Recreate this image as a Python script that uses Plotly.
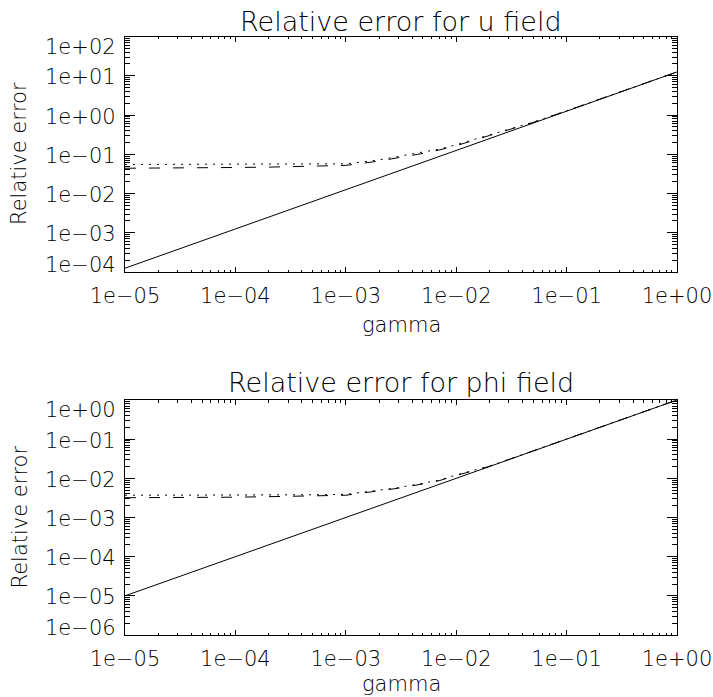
import plotly.graph_objects as go

# ---- data -------------------------------------------------------------
gamma = [1e-5, 2e-5, 5e-5, 1e-4, 2e-4, 5e-4, 1e-3, 2e-3, 3e-3, 5e-3, 7e-3,
         1e-2, 2e-2, 3e-2, 5e-2, 1e-1, 2e-1, 5e-1, 1.0]

# u field
u_solid = [1.25e-4, 2.5e-4, 6.2e-4, 1.25e-3, 2.5e-3, 6.2e-3, 1.25e-2, 2.5e-2,
           3.7e-2, 6.2e-2, 8.7e-2, 0.125, 0.25, 0.37, 0.62, 1.25, 2.5, 6.2, 12.5]
u_dotted = [0.055, 0.055, 0.055, 0.055, 0.055, 0.056, 0.057, 0.072, 0.087,
            0.112, 0.135, 0.175, 0.31, 0.43, 0.66, 1.28, 2.52, 6.25, 12.5]
u_dashed = [0.044, 0.044, 0.045, 0.046, 0.047, 0.050, 0.052, 0.067, 0.081,
            0.105, 0.128, 0.165, 0.30, 0.42, 0.65, 1.27, 2.51, 6.25, 12.5]

# phi field
phi_solid = [1e-5, 2e-5, 5e-5, 1e-4, 2e-4, 5e-4, 1e-3, 2e-3, 3e-3, 5e-3, 7e-3,
             1e-2, 2e-2, 3e-2, 5e-2, 1e-1, 2e-1, 5e-1, 1.0]
phi_dotted = [0.0037, 0.0037, 0.0037, 0.0037, 0.0037, 0.0038, 0.0039, 0.0050,
              0.0058, 0.0075, 0.0090, 0.0122, 0.0205, 0.0305, 0.051, 0.1,
              0.2, 0.5, 1.0]
phi_dashed = [0.0032, 0.0032, 0.0033, 0.0033, 0.0034, 0.0035, 0.0037, 0.0048,
              0.0056, 0.0072, 0.0087, 0.0118, 0.0202, 0.0303, 0.0505, 0.1,
              0.2, 0.5, 1.0]

x_ticks = [1e-5, 1e-4, 1e-3, 1e-2, 1e-1, 1.0]
x_ticktext = ["1e\u221205", "1e\u221204", "1e\u221203", "1e\u221202",
              "1e\u221201", "1e+00"]

u_decades = [2, 1, 0, -1, -2, -3, -4]
u_ticktext = ["1e+02", "1e+01", "1e+00", "1e\u221201", "1e\u221202",
              "1e\u221203", "1e\u221204"]
phi_decades = [0, -1, -2, -3, -4, -5, -6]
phi_ticktext = ["1e+00", "1e\u221201", "1e\u221202", "1e\u221203",
                "1e\u221204", "1e\u221205", "1e\u221206"]

# ---- styling ----------------------------------------------------------
W, H = 713, 697
FAMILY = "DejaVu Sans"
TICK_FONT = dict(family=FAMILY, size=21, color="black", weight=200)
LABEL_FONT = dict(family=FAMILY, size=21, color="black", weight=200)
TITLE_FONT = dict(family=FAMILY, size=27, color="black", weight=200)


def py(pix):
    """pixel row (from top) -> paper fraction"""
    return (H - pix) / H


def minor_vals(lo, hi):
    vals = []
    for d in range(lo, hi):
        for m in range(2, 10):
            vals.append(m * 10.0 ** d)
    return vals


x_dom = [125 / W, 677 / W]
top_dom = [py(272), py(36.5)]
bot_dom = [py(635), py(400)]

fig = go.Figure()

series = [
    ("x", "y", u_solid, u_dotted, u_dashed),
    ("x2", "y2", phi_solid, phi_dotted, phi_dashed),
]
for xa, ya, s, dt, ds in series:
    fig.add_trace(go.Scatter(x=gamma, y=s, mode="lines", xaxis=xa, yaxis=ya,
                             line=dict(color="black", width=1)))
    fig.add_trace(go.Scatter(x=gamma, y=dt, mode="lines", xaxis=xa, yaxis=ya,
                             line=dict(color="black", width=1, dash="2px,6px")))
    fig.add_trace(go.Scatter(x=gamma, y=ds, mode="lines", xaxis=xa, yaxis=ya,
                             line=dict(color="black", width=1, dash="11px,13px")))


def xaxis_cfg(anchor):
    return dict(type="log", domain=x_dom, range=[-5, 0], anchor=anchor,
                automargin=False,
                tickmode="array", tickvals=x_ticks, ticktext=x_ticktext,
                ticks="inside", ticklen=5, tickwidth=1, tickcolor="black",
                showline=True, linecolor="black", linewidth=1, mirror="ticks",
                showgrid=False, zeroline=False, tickfont=TICK_FONT,
                ticklabelstandoff=5,
                minor=dict(ticks="inside", ticklen=2.5, tickwidth=1,
                           tickcolor="black", tickmode="array",
                           tickvals=minor_vals(-5, 0), showgrid=False))


def yaxis_cfg(anchor, dom, lo, hi):
    return dict(type="log", domain=dom, range=[lo, hi], anchor=anchor,
                automargin=False,
                tickmode="array", tickvals=[10.0 ** d for d in range(lo, hi + 1)],
                showticklabels=False,
                ticks="inside", ticklen=10, tickwidth=1, tickcolor="black",
                showline=True, linecolor="black", linewidth=1, mirror="ticks",
                showgrid=False, zeroline=False,
                minor=dict(ticks="inside", ticklen=5, tickwidth=1,
                           tickcolor="black", tickmode="array",
                           tickvals=minor_vals(lo, hi), showgrid=False))


annotations = []


def add_ylabels(yref, decades, texts, lo, hi):
    for d, t in zip(decades, texts):
        shift = -1.5
        if d == hi:
            shift = -10
        elif d == lo:
            shift = 7
        annotations.append(dict(x=118 / W, xref="paper", xanchor="right",
                                y=d, yref=yref, yanchor="middle", yshift=shift,
                                text=t, showarrow=False, font=TICK_FONT))


add_ylabels("y", u_decades, u_ticktext, -4, 2)
add_ylabels("y2", phi_decades, phi_ticktext, -6, 0)

for txt, ypix in [("Relative error for u field", 21),
                  ("Relative error for phi field", 382)]:
    annotations.append(dict(x=401 / W, xref="paper", xanchor="center",
                            y=py(ypix), yref="paper", yanchor="middle",
                            text=txt, showarrow=False, font=TITLE_FONT))

for ypix in [325, 684]:
    annotations.append(dict(x=401 / W, xref="paper", xanchor="center",
                            y=py(ypix), yref="paper", yanchor="middle",
                            text="gamma", showarrow=False, font=LABEL_FONT))

for ypix in [154, 517.5]:
    annotations.append(dict(x=19 / W, xref="paper", xanchor="center",
                            y=py(ypix), yref="paper", yanchor="middle",
                            text="Relative error", textangle=-90,
                            showarrow=False, font=LABEL_FONT))

fig.update_layout(
    width=W, height=H, autosize=False,
    margin=dict(l=0, r=0, t=0, b=0),
    paper_bgcolor="white", plot_bgcolor="white",
    showlegend=False,
    xaxis=xaxis_cfg("y"),
    yaxis=yaxis_cfg("x", top_dom, -4, 2),
    xaxis2=xaxis_cfg("y2"),
    yaxis2=yaxis_cfg("x2", bot_dom, -6, 0),
    annotations=annotations,
)

fig.write_html("out.html")
